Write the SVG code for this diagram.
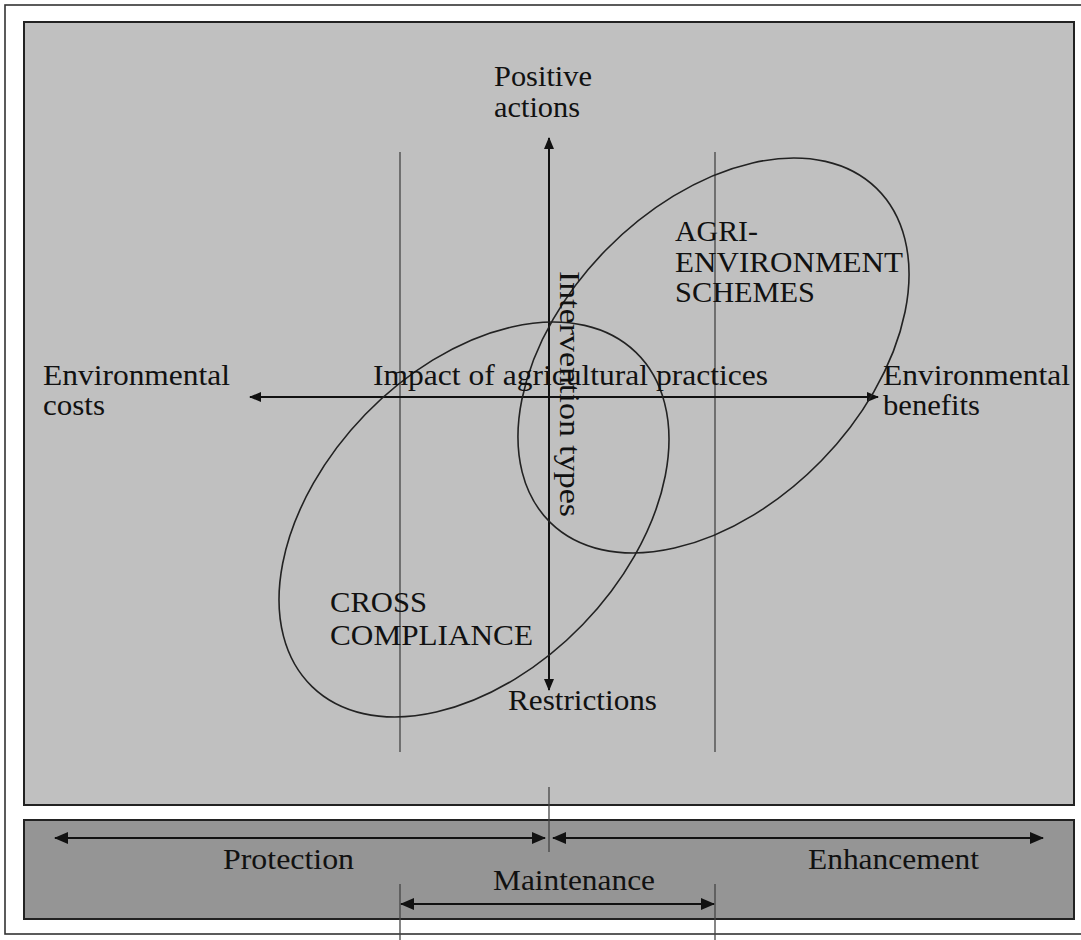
<svg xmlns="http://www.w3.org/2000/svg" width="1081" height="940" viewBox="0 0 1081 940">
<defs>
<style>
.t{font-family:"Liberation Serif","Times New Roman",serif;font-size:30px;fill:#111;}
.ax{stroke:#111;stroke-width:2;fill:none;}
.thin{stroke:#444;stroke-width:1.3;fill:none;}
.el{stroke:#222;stroke-width:1.6;fill:none;}
</style>
<marker id="ah" viewBox="0 0 12 10" refX="11" refY="5" markerWidth="12" markerHeight="10" markerUnits="userSpaceOnUse" orient="auto-start-reverse"><path d="M0,0 L12,5 L0,10 z" fill="#111"/></marker>
<marker id="ahb" viewBox="0 0 14 12" refX="13" refY="6" markerWidth="14" markerHeight="12" markerUnits="userSpaceOnUse" orient="auto-start-reverse"><path d="M0,0 L14,6 L0,12 z" fill="#111"/></marker>
</defs>
<rect width="1081" height="940" fill="#fff"/>
<g id="frame">
<rect x="5" y="5" width="1082" height="929" fill="#fff" stroke="#333" stroke-width="1.6"/>
<rect x="24" y="22" width="1050" height="783" fill="#c0c0c0" stroke="#222" stroke-width="2"/>
<rect x="24" y="820" width="1050" height="99" fill="#959595" stroke="#222" stroke-width="2"/>
</g>
<g id="connectors">
<line class="thin" x1="400" y1="152" x2="400" y2="752"/>
<line class="thin" x1="715" y1="152" x2="715" y2="752"/>
<line class="ax" x1="549" y1="138" x2="549" y2="690" marker-start="url(#ah)" marker-end="url(#ah)"/>
<line class="ax" x1="250" y1="397" x2="878" y2="397" marker-start="url(#ah)" marker-end="url(#ah)"/>
<line class="thin" x1="549" y1="787" x2="549" y2="852"/>
<line class="ax" x1="55" y1="838" x2="545" y2="838" marker-start="url(#ahb)" marker-end="url(#ahb)"/>
<line class="ax" x1="553" y1="838" x2="1043" y2="838" marker-start="url(#ahb)" marker-end="url(#ahb)"/>
<line class="thin" x1="400" y1="884" x2="400" y2="940"/>
<line class="thin" x1="715" y1="884" x2="715" y2="940"/>
<line class="ax" x1="401" y1="904" x2="714" y2="904" marker-start="url(#ahb)" marker-end="url(#ahb)"/>
</g>
<g id="cross-compliance">
<ellipse class="el" cx="474" cy="519.5" rx="232.7" ry="151.2" transform="rotate(-45.9 474 519.5)"/>
<text class="t" x="330" y="612" textLength="97" lengthAdjust="spacingAndGlyphs">CROSS</text>
<text class="t" x="330" y="645" textLength="203" lengthAdjust="spacingAndGlyphs">COMPLIANCE</text>
</g>
<g id="agri-environment">
<ellipse class="el" cx="713.5" cy="355.5" rx="233.5" ry="150.7" transform="rotate(-45.7 713.5 355.5)"/>
<text class="t" x="675" y="241" textLength="83" lengthAdjust="spacingAndGlyphs">AGRI-</text>
<text class="t" x="675" y="272" textLength="228" lengthAdjust="spacingAndGlyphs">ENVIRONMENT</text>
<text class="t" x="675" y="302" textLength="140" lengthAdjust="spacingAndGlyphs">SCHEMES</text>
</g>
<g id="labels">
<text class="t" x="494" y="86" textLength="98" lengthAdjust="spacingAndGlyphs">Positive</text>
<text class="t" x="494" y="117" textLength="86" lengthAdjust="spacingAndGlyphs">actions</text>
<text class="t" x="508" y="710" textLength="149" lengthAdjust="spacingAndGlyphs">Restrictions</text>
<text class="t" x="43" y="385" textLength="187" lengthAdjust="spacingAndGlyphs">Environmental</text>
<text class="t" x="43" y="415" textLength="62" lengthAdjust="spacingAndGlyphs">costs</text>
<text class="t" x="883" y="385" textLength="187" lengthAdjust="spacingAndGlyphs">Environmental</text>
<text class="t" x="883" y="415" textLength="97" lengthAdjust="spacingAndGlyphs">benefits</text>
<text class="t" x="373" y="385" textLength="395" lengthAdjust="spacingAndGlyphs">Impact of agricultural practices</text>
<text class="t" transform="translate(560 271) rotate(90)" x="0" y="0" textLength="246" lengthAdjust="spacingAndGlyphs">Intervention types</text>
</g>
<g id="band-labels">
<text class="t" x="223" y="869" textLength="131" lengthAdjust="spacingAndGlyphs">Protection</text>
<text class="t" x="808" y="869" textLength="171" lengthAdjust="spacingAndGlyphs">Enhancement</text>
<text class="t" x="493" y="890" textLength="162" lengthAdjust="spacingAndGlyphs">Maintenance</text>
</g>
</svg>
